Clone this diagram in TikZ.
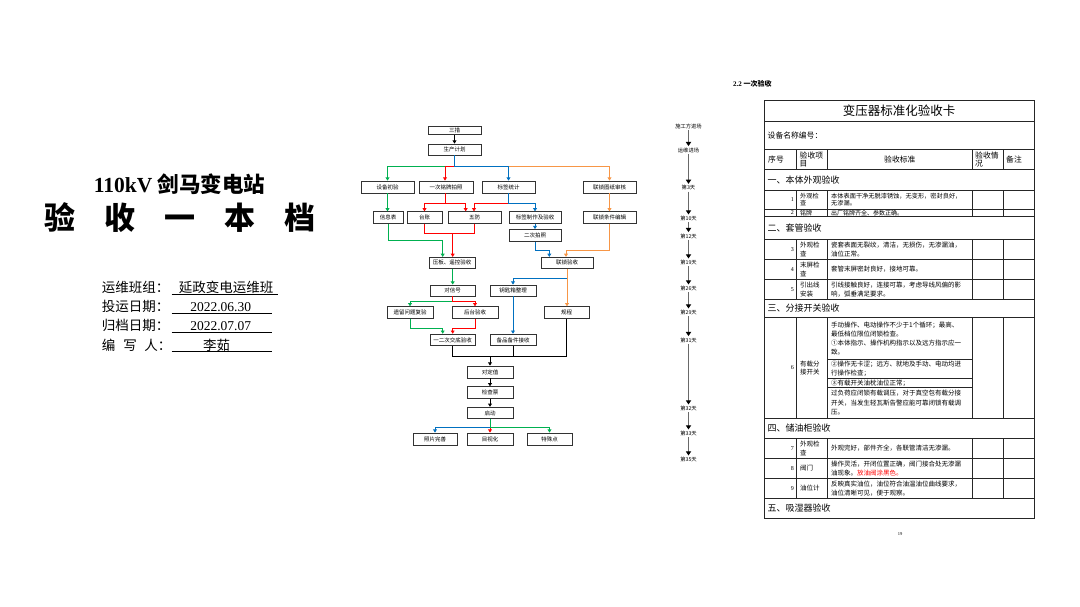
\documentclass[tikz,border=0pt]{standalone}
\usepackage{fontspec}
\setmainfont{Liberation Serif}
\newfontfamily\cjk{Noto Sans CJK SC}
\usetikzlibrary{arrows.meta}
\definecolor{cg}{RGB}{0,176,80}
\definecolor{cr}{RGB}{255,0,0}
\definecolor{cb}{RGB}{0,112,192}
\definecolor{co}{RGB}{247,150,70}
\definecolor{tgray}{RGB}{105,105,105}
\begin{document}
\begin{tikzpicture}[x=1pt,y=-1pt,
 fb/.style={draw=black!80, line width=0.8pt, inner sep=0pt, fill=white, font=\cjk\fontsize{5.5}{6.5}\selectfont},
 bx/.style 2 args={fb, minimum width=#1, minimum height=#2},
 ar/.style={line width=0.9pt, -{Triangle[length=3.2pt,width=3.8pt]}},
 ln/.style={line width=0.9pt},
 tl/.style={font=\cjk\fontsize{5.3}{6}\selectfont, inner sep=1.2pt},
 ta/.style={draw=tgray, line width=1.6pt, -{Triangle[length=4.2pt,width=5.2pt,color=black]}},
 cell/.style={font=\cjk\fontsize{6.5}{9}\selectfont, anchor=west, align=left, inner sep=0pt},
 item/.style={font=\cjk\fontsize{6.5}{8.5}\selectfont, anchor=west, align=left, inner sep=0pt},
 num/.style={font=\fontsize{6}{7}\selectfont, anchor=east, inner sep=0pt},
 hd/.style={font=\cjk\fontsize{7.8}{8.5}\selectfont, anchor=west, align=left, inner sep=0pt},
 sec/.style={font=\cjk\fontsize{9}{10}\selectfont, anchor=west, inner sep=0pt},
 tb/.style={line width=0.6pt, draw=black!85},
 lab/.style={font=\cjk\fontsize{13.5}{15}\selectfont, anchor=west, inner sep=0pt},
 val/.style={font=\fontsize{13.5}{15}\selectfont, inner sep=0pt}]
\useasboundingbox[fill=white] (0,0) rectangle (1080,606);

% ---------------- left cover ----------------
\node[inner sep=0pt] (t1) at (179.5,184) {\fontsize{21.5}{24}\selectfont\bfseries 110kV {\cjk 剑马变电站}};
\node[inner sep=0pt] (t2) at (180,217.5) {\cjk\bfseries\fontsize{31}{34}\selectfont
  \makebox[60pt]{验}\makebox[60pt]{收}\makebox[60pt]{一}\makebox[60pt]{本}\makebox[60pt]{档}};
\node[lab] (l1) at (101.7,287.3) {运维班组：};
\node[lab] (l2) at (101.7,306.7) {投运日期：};
\node[lab] (l3) at (101.7,325.7) {归档日期：};
\node[lab] (l4) at (101.7,345) {编\hspace{8pt}写\hspace{7.5pt}人：};
\node[val,font=\cjk\fontsize{13.5}{15}\selectfont] (v1) at (226,287.3) {延政变电运维班};
\node[val] (v2) at (220.7,306.7) {2022.06.30};
\node[val] (v3) at (220.7,325.7) {2022.07.07};
\node[val,font=\cjk\fontsize{13.5}{15}\selectfont] (v4) at (216.7,345) {李茹};
\draw[line width=0.6pt] (171.7,294.5) -- (278.3,294.5);
\draw[line width=0.6pt] (171.7,313.2) -- (271.7,313.2);
\draw[line width=0.6pt] (171.7,332.2) -- (271.7,332.2);
\draw[line width=0.6pt] (171.7,351.5) -- (271.7,351.5);

% ---------------- flowchart ----------------
\node[bx={53pt}{8.5pt}] (sc) at (454.5,130.5) {三措};
\node[bx={53pt}{11pt}] (scjh) at (454.5,149.5) {生产计划};
\node[bx={53pt}{12pt}] (sbcy) at (387.5,187) {设备初验};
\node[bx={54pt}{12pt}] (ycmp) at (446,187) {一次铭牌拍照};
\node[bx={53pt}{12pt}] (bqtj) at (508.5,187) {标签统计};
\node[bx={53pt}{12pt}] (lstz) at (609.5,187) {联锁图纸审核};
\node[bx={30pt}{11.5pt}] (xxb) at (388,217.5) {信息表};
\node[bx={35pt}{11.5pt}] (tz) at (424.5,217.5) {台账};
\node[bx={53pt}{11.5pt}] (wf) at (474.5,217.5) {五防};
\node[bx={52pt}{11.5pt}] (bqzz) at (535,217.5) {标签制作及验收};
\node[bx={53pt}{11.5pt}] (lstj) at (609.5,217.5) {联锁条件编辑};
\node[bx={52pt}{12pt}] (eccp) at (535,235.5) {二次拍照};
\node[bx={46pt}{11pt}] (ybyk) at (452,262.8) {压板、遥控验收};
\node[bx={52pt}{11pt}] (lsys) at (567,262.8) {联锁验收};
\node[bx={45pt}{11pt}] (dxh) at (452.5,290.5) {对信号};
\node[bx={46pt}{11pt}] (ysx) at (513,290.5) {钥匙箱整理};
\node[bx={46pt}{11.6pt}] (ylwt) at (410,312.5) {遗留问题复验};
\node[bx={46pt}{11.6pt}] (htys) at (475,312.5) {后台验收};
\node[bx={45pt}{11.6pt}] (gc) at (566.5,312.5) {规程};
\node[bx={45pt}{11.7pt}] (jdys) at (452.5,340) {一二次交底验收};
\node[bx={46pt}{11.7pt}] (bpbj) at (513,340) {备品备件接收};
\node[bx={46pt}{12pt}] (ddz) at (490,372) {对定值};
\node[bx={46pt}{11.6pt}] (jcp) at (490,392.5) {检查票};
\node[bx={46pt}{11.6pt}] (qd) at (490,413) {启动};
\node[bx={44pt}{12pt}] (zpws) at (435,439) {照片完善};
\node[bx={46pt}{12pt}] (mshh) at (490,439) {目视化};
\node[bx={45pt}{12pt}] (tsd) at (549.5,439) {特殊点};

\draw[ar] (sc) -- (scjh);
\draw[ar,co] (scjh.south) -- ++(0,10.7) -| (lstz.north);
\draw[ar,cg] (scjh.south) -- ++(0,10.7) -| (sbcy.north);
\draw[ar,cr] (scjh.south) -- ++(0,10.7) -| ([xshift=-1pt]ycmp.north);
\draw[ar,cb] (scjh.south) -- ++(0,10.7) -| (bqtj.north);

\draw[ar,cr] ([xshift=-1pt]ycmp.south) -- ++(0,10.3) -| (tz.north);
\draw[ar,cr] ([xshift=-1pt]ycmp.south) -- ++(0,10.3) -| ([xshift=-8.8pt]wf.north);
\draw[ar,cr] (bqtj.south) -- ++(0,10.3) -| ([xshift=-0.5pt]wf.north);
\draw[ar,cb] (bqtj.south) -- ++(0,10.3) -| (bqzz.north);

\draw[ar,cg] (sbcy.south) -- (sbcy.south |- xxb.north);
\draw[ar,cb] (bqzz) -- (eccp);
\draw[ar,co] (lstz) -- (lstj);

\draw[ar,cg] (xxb.south) -- ++(0,16.75) -| ([xshift=-9.3pt]ybyk.north);
\coordinate (rj) at (452.7,233.3);
\draw[ln,cr] (tz.south) |- (rj);
\draw[ln,cr] (wf.south) |- (rj);
\draw[ar,cr] (rj) -- (rj |- ybyk.north);

\draw[ar,cb] (eccp.south) -- ++(0,8.5) -| ([xshift=-17.7pt]lsys.north);
\draw[ar,co] (lstj.south) -- ++(0,26.75) -| ([xshift=-1pt]lsys.north);

\draw[ar,cg] ([xshift=0.7pt]ybyk.south) -- ([xshift=0.2pt]dxh.north);
\draw[ar,cb] (lsys.south) -- ++(0,10) -| (ysx.north);
\draw[ar,co] (lsys.south) -- (lsys.south |- gc.north);

\draw[ar,cg] (dxh.south) -- ++(0,4.7) -| (ylwt.north);
\draw[ar,cr] (dxh.south) -- ++(0,4.7) -| (htys.north);
\draw[ar,cg] (ylwt.south) -- ++(0,10) -| ([xshift=-9.8pt]jdys.north);
\draw[ar,cr] (htys.south) -- ++(0,10) -| ([xshift=0.2pt]jdys.north);
\draw[ar,cb] (ysx) -- (bpbj);

\coordinate (kj) at (490,356);
\draw[ln] (jdys.south) |- (kj);
\draw[ln] (kj) -| (gc.south);
\draw[ln] (bpbj.south) -- (bpbj.south |- kj);
\draw[ar] (kj) -- (ddz.north);
\draw[ar] (ddz) -- (jcp);
\draw[ar] (jcp) -- (qd);

\draw[ar,cb] (qd.south) -- ++(0,7.9) -| (zpws.north);
\draw[ar,cr] (qd.south) -- (mshh.north);
\draw[ar,cg] (qd.south) -- ++(0,7.9) -| (tsd.north);

% ---------------- timeline ----------------
\node[tl] (d1) at (688.5,126) {施工方进场};
\node[tl] (d2) at (688.5,150) {运维进场};
\node[tl] (d3) at (688.5,187.7) {第3天};
\node[tl] (d4) at (688.5,218.3) {第10天};
\node[tl] (d5) at (688.5,236) {第12天};
\node[tl] (d6) at (688.5,262.3) {第19天};
\node[tl] (d7) at (688.5,288.3) {第26天};
\node[tl] (d8) at (688.5,312.3) {第29天};
\node[tl] (d9) at (688.5,340) {第31天};
\node[tl] (d10) at (688.5,408.3) {第32天};
\node[tl] (d11) at (688.5,433.3) {第33天};
\node[tl] (d12) at (688.5,459.3) {第35天};
\foreach \a/\b in {d1/d2,d2/d3,d3/d4,d4/d5,d5/d6,d6/d7,d7/d8,d8/d9,d9/d10,d10/d11,d11/d12}
  \draw[ta] (\a) -- (\b);

% ---------------- table ----------------
\node[anchor=west,inner sep=0pt] (h22) at (733,84) {\fontsize{7}{8}\selectfont\bfseries 2.2 {\cjk 一次验收}};
\draw[tb] (764.3,100) rectangle (1034,518.3);
\foreach \y in {121.7,149.3,169.3,190,209.3,216.7,239.3,259.3,279.3,299.3,317.7,418.3,438.3,458.3,478.3,498.3}
  \draw[tb] (764.3,\y) -- (1034,\y);
\foreach \x in {796.7,827.3,972.3,1003.3}{
  \draw[tb] (\x,149.3) -- (\x,169.3);
  \draw[tb] (\x,190) -- (\x,216.7);
  \draw[tb] (\x,239.3) -- (\x,299.3);
  \draw[tb] (\x,317.7) -- (\x,418.3);
  \draw[tb] (\x,438.3) -- (\x,498.3);}
\foreach \y in {359.3,378.3,387.3}
  \draw[tb] (827.3,\y) -- (972.3,\y);

\node[inner sep=0pt,font=\cjk\fontsize{12.5}{14}\selectfont] (ttl) at (899,111) {变压器标准化验收卡};
\node[hd] (sbmc) at (767.5,135.5) {设备名称编号：};
\node[hd] (hx1) at (768,159.3) {序号};
\node[hd] (hx2) at (799.5,159.3) {验收项\\目};
\node[hd,anchor=center] (hx3) at (899.8,159.3) {验收标准};
\node[hd] (hx4) at (975,159.3) {验收情\\况};
\node[hd] (hx5) at (1006,159.3) {备注};

\node[sec] (s1) at (767.5,179.65) {一、本体外观验收};
\node[sec] (s2) at (767.5,228) {二、套管验收};
\node[sec] (s3) at (767.5,308.5) {三、分接开关验收};
\node[sec] (s4) at (767.5,428.3) {四、储油柜验收};
\node[sec] (s5) at (767.5,508.3) {五、吸湿器验收};

\node[num] (n1) at (794,199.65) {1};
\node[item,font=\cjk\fontsize{6.2}{7.4}\selectfont] (i1) at (800,199.65) {外观检\\查};
\node[cell,font=\cjk\fontsize{6.2}{7.4}\selectfont] (c1) at (831,199.65) {本体表面干净无脱漆锈蚀，无变形，密封良好，\\无渗漏。};
\node[num] (n2) at (794,213) {2};
\node[item,font=\cjk\fontsize{6}{7}\selectfont] (i2) at (800,213) {铭牌};
\node[cell,font=\cjk\fontsize{6}{7}\selectfont] (c2) at (831,213) {出厂铭牌齐全、参数正确。};

\node[num] (n3) at (794,249.3) {3};
\node[item] (i3) at (800,249.3) {外观检\\查};
\node[cell] (c3) at (831,249.3) {瓷套表面无裂纹，清洁，无损伤，无渗漏油，\\油位正常。};
\node[num] (n4) at (794,269.3) {4};
\node[item] (i4) at (800,269.3) {末屏检\\查};
\node[cell] (c4) at (831,269.3) {套管末屏密封良好，接地可靠。};
\node[num] (n5) at (794,289.3) {5};
\node[item] (i5) at (800,289.3) {引出线\\安装};
\node[cell] (c5) at (831,289.3) {引线接触良好，连接可靠，考虑导线风偏的影\\响，弧垂满足要求。};

\node[num] (n6) at (794,368) {6};
\node[item] (i6) at (800,368) {有载分\\接开关};
\node[cell,font=\cjk\fontsize{6.5}{9.3}\selectfont] (c6a) at (831,338.5) {手动操作、电动操作不少于1个循环；最高、\\最低档位限位闭锁检查。\\①本体指示、操作机构指示以及远方指示应一\\致。};
\node[cell] (c6b) at (831,368.8) {②操作无卡涩；远方、就地及手动、电动均进\\行操作检查；};
\node[cell] (c6c) at (831,382.8) {③有载开关油枕油位正常；};
\node[cell,font=\cjk\fontsize{6.5}{9.5}\selectfont] (c6d) at (831,402.8) {过负荷应闭锁有载调压，对于真空包有载分接\\开关，当发生轻瓦斯告警应能可靠闭锁有载调\\压。};

\node[num] (n7) at (794,448.3) {7};
\node[item] (i7) at (800,448.3) {外观检\\查};
\node[cell] (c7) at (831,448.3) {外观完好，部件齐全，各联管清洁无渗漏。};
\node[num] (n8) at (794,468.3) {8};
\node[item] (i8) at (800,468.3) {阀门};
\node[cell] (c8) at (831,468.3) {操作灵活，开闭位置正确，阀门接合处无渗漏\\油现象。\textcolor{cr}{放油阀涂黑色。}};
\node[num] (n9) at (794,488.3) {9};
\node[item] (i9) at (800,488.3) {油位计};
\node[cell] (c9) at (831,488.3) {反映真实油位，油位符合油温油位曲线要求，\\油位清晰可见，便于观察。};

\node[inner sep=0pt,font=\fontsize{4.5}{5}\selectfont] (pg) at (900,534) {19};
\end{tikzpicture}
\end{document}
